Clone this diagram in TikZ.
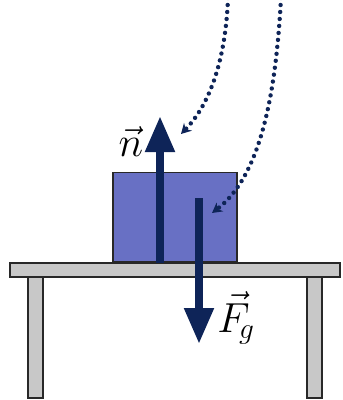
\RequirePackage{fix-cm}
\documentclass[tikz,border=0pt]{standalone}
\usepackage{amsmath}
\definecolor{fbnavy}{RGB}{14,36,88}
\definecolor{fbblock}{RGB}{104,112,196}
\definecolor{fbtable}{RGB}{200,200,200}
\definecolor{fbedge}{RGB}{40,40,40}
\usetikzlibrary{arrows.meta,positioning,calc}

\tikzset{
  part/.style={draw=fbedge,line width=1.2pt,fill=fbtable,inner sep=0pt},
  force/.style={draw=fbnavy,line width=8pt,-{Triangle[width=28pt,length=36pt]}},
  pointer/.style={draw=fbnavy,line width=4.4pt,line cap=round,dash pattern=on 0pt off 7pt,
    -{Stealth[length=10pt,width=11pt]}},
  lbl/.style={font=\fontsize{42}{46}\selectfont,inner sep=0pt}
}

\begin{document}
\begin{tikzpicture}[x=1pt,y=-1pt]
  \useasboundingbox (0,0) rectangle (343,400);
  % table
  \node[part,minimum width=15pt,minimum height=122pt] (legL) at (35.5,337) {};
  \node[part,minimum width=15pt,minimum height=122pt] (legR) at (314.5,337) {};
  \node[part,minimum width=330pt,minimum height=14pt] (top) at (175,270) {};
  % block on the table
  \node[draw=fbedge,line width=1.2pt,fill=fbblock,inner sep=0pt,
    minimum width=124pt,minimum height=89pt,anchor=south] (block) at (top.north) {};
  % forces
  \coordinate (nbase) at (160,263);
  \coordinate (ntip) at (160,116);
  \coordinate (gbase) at (199,198);
  \coordinate (gtip) at (199,344);
  \draw[force] (nbase) -- (ntip);
  \draw[force] (gbase) -- (gtip);
  \node[lbl] (nlab) at (131,142) {$\vec{n}$};
  \node[lbl] (glab) at (236,318) {$\vec{F}_{\!g}$};
  % dotted pointers
  \coordinate (p1) at (228,-2);
  \coordinate (p2) at (281,-2);
  \coordinate (e1) at (181,134);
  \coordinate (e2) at (212,213);
  \draw[pointer] (p1) .. controls (226,50) and (214,100) .. (e1);
  \draw[pointer] (p2) .. controls (276,90) and (262,175) .. (e2);
\end{tikzpicture}
\end{document}
